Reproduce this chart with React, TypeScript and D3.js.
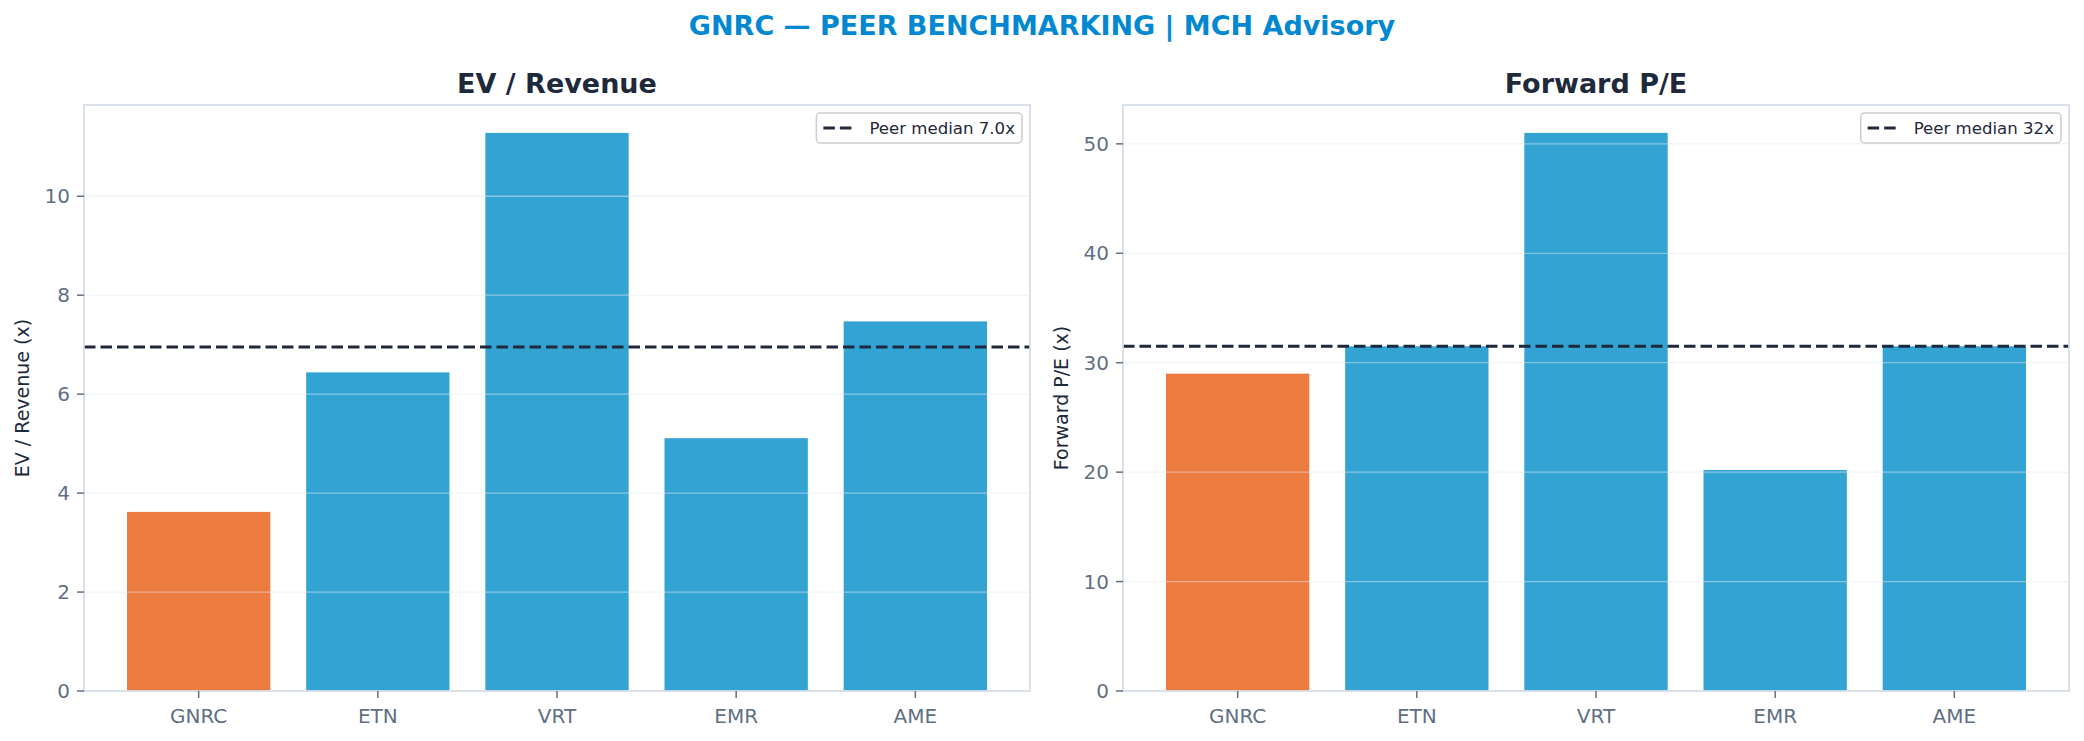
import React from "react";
import * as d3 from "d3";

const tickers = ["GNRC", "ETN", "VRT", "EMR", "AME"];
const evRevenue = [3.62, 6.44, 11.28, 5.11, 7.47];
const forwardPE = [29.0, 31.5, 51.0, 20.2, 31.5];
const evTicks = [0, 2, 4, 6, 8, 10];
const peTicks = [0, 10, 20, 30, 40, 50];
const subject = "GNRC";

const TITLE = "GNRC — PEER BENCHMARKING | MCH Advisory";
const FONT = "'DejaVu Sans', sans-serif";

const W = 2084;
const H = 741;
const TOP = 105;
const BOTTOM = 691;

const panels = [
  { title: "EV / Revenue", ylabel: "EV / Revenue (x)", values: evRevenue, ticks: evTicks, fmt: d3.format(".1f"), left: 84, right: 1030, ylabelX: 29 },
  { title: "Forward P/E", ylabel: "Forward P/E (x)", values: forwardPE, ticks: peTicks, fmt: d3.format(".0f"), left: 1123, right: 2069, ylabelX: 1068 },
];

const ORANGE = "#EC7B3F";
const BLUE = "#33A3D4";
const DARK = "#1e293b";
const SLATE = "#5f6f84";
const SPINE = "#d5dce7";
const LEGEND_FS = 16.6;

function measure(text: string, font: string): number {
  const c = document.createElement("canvas").getContext("2d");
  if (!c) return text.length * 9;
  c.font = font;
  return c.measureText(text).width;
}

function Panel({ p }: { p: (typeof panels)[number] }) {
  const maxV = d3.max(p.values) as number;
  const x = d3.scaleLinear().domain([-0.64, tickers.length - 1 + 0.64]).range([p.left, p.right]);
  const y = d3.scaleLinear().domain([0, maxV * 1.05]).range([BOTTOM, TOP]);
  const peers = p.values.filter((_, i) => tickers[i] !== subject);
  const med = d3.median(peers) as number;
  const legendText = `Peer median ${p.fmt(med)}x`;
  const tw = measure(legendText, `${LEGEND_FS}px ${FONT}`);
  const boxRight = p.right - 8;
  const boxW = tw + 60;
  const boxLeft = boxRight - boxW;
  const boxTop = 113;
  const boxH = 30;
  const bw = x(0.8) - x(0);
  const cx = (p.left + p.right) / 2;
  return (
    <g>
      <text x={cx} y={93} textAnchor="middle" fontFamily={FONT} fontWeight="bold" fontSize={27} fill={DARK}>
        {p.title}
      </text>
      {tickers.map((t, i) => (
        <rect key={t} x={x(i) - bw / 2} y={y(p.values[i])} width={bw} height={BOTTOM - y(p.values[i])} fill={t === subject ? ORANGE : BLUE} />
      ))}
      {p.ticks.map((v) => (
        <line key={v} x1={p.left} x2={p.right} y1={y(v)} y2={y(v)} stroke="#e2e8f0" strokeOpacity={0.5} strokeWidth={1.3} />
      ))}
      <line x1={p.left} x2={p.right} y1={y(med)} y2={y(med)} stroke={DARK} strokeWidth={3} strokeDasharray="11.5 5" />
      <rect x={p.left} y={TOP} width={p.right - p.left} height={BOTTOM - TOP} fill="none" stroke={SPINE} strokeWidth={1.7} />
      {p.ticks.map((v) => (
        <g key={v}>
          <line x1={p.left - 7} x2={p.left} y1={y(v)} y2={y(v)} stroke={SLATE} strokeWidth={1.5} />
          <text x={p.left - 14} y={y(v)} dy="0.36em" textAnchor="end" fontFamily={FONT} fontSize={20} fill={SLATE}>
            {v}
          </text>
        </g>
      ))}
      {tickers.map((t, i) => (
        <g key={t}>
          <line x1={x(i)} x2={x(i)} y1={BOTTOM} y2={BOTTOM + 7} stroke={SLATE} strokeWidth={1.5} />
          <text x={x(i)} y={723} textAnchor="middle" fontFamily={FONT} fontSize={20} fill={SLATE}>
            {t}
          </text>
        </g>
      ))}
      <text transform={`translate(${p.ylabelX},${(TOP + BOTTOM) / 2}) rotate(-90)`} textAnchor="middle" fontFamily={FONT} fontSize={19} fill={DARK}>
        {p.ylabel}
      </text>
      <rect x={boxLeft} y={boxTop} width={boxW} height={boxH} rx={4} fill="white" fillOpacity={0.8} stroke="#cccccc" strokeWidth={1.5} />
      <line x1={boxLeft + 7} x2={boxLeft + 37} y1={boxTop + boxH / 2} y2={boxTop + boxH / 2} stroke={DARK} strokeWidth={3} strokeDasharray="11.5 5" />
      <text x={boxLeft + 53} y={boxTop + boxH / 2} dy="0.36em" fontFamily={FONT} fontSize={LEGEND_FS} fill={DARK}>
        {legendText}
      </text>
    </g>
  );
}

export default function App() {
  return (
    <svg width={W} height={H} style={{ position: "absolute", left: 0, top: 0, background: "white" }}>
      <rect x={0} y={0} width={W} height={H} fill="white" />
      <text x={W / 2} y={35} textAnchor="middle" fontFamily={FONT} fontWeight="bold" fontSize={27} fill="#0288D1">
        {TITLE}
      </text>
      {panels.map((p) => (
        <Panel key={p.title} p={p} />
      ))}
    </svg>
  );
}
